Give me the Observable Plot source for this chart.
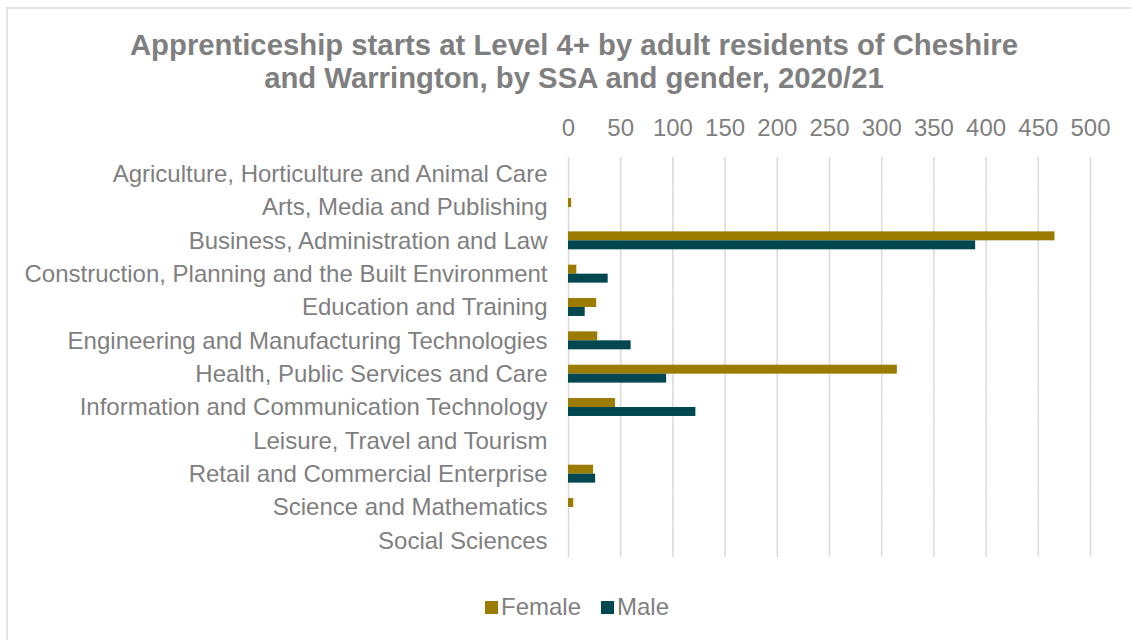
<!DOCTYPE html>
<html>
<head>
<meta charset="utf-8">
<script src="https://cdn.jsdelivr.net/npm/d3@7"></script>
<script src="https://cdn.jsdelivr.net/npm/@observablehq/plot@0.6"></script>
<style>
  html, body { margin: 0; padding: 0; background: #fff; width: 1132px; height: 640px; overflow: hidden; }
  body { position: relative; font-family: Arial, "Liberation Sans", sans-serif; }
  #frame { position: absolute; left: 6px; top: 7px; width: 1140px; height: 650px; border: 2px solid #e3e3e3; box-sizing: border-box; }
  #title { position: absolute; left: 6px; top: 28px; width: 1136px; text-align: center; font-size: 29.3px; font-weight: bold; line-height: 33px; color: #7f7f7f; white-space: nowrap; }
  #chart { position: absolute; left: 0; top: 100px; }
  #legend { position: absolute; left: 9px; top: 593px; width: 1136px; display: flex; justify-content: center; align-items: center; font-size: 24px; line-height: 28px; color: #7f7f7f; }
  .item { display: flex; align-items: center; margin: 0 10px; }
  .sw { width: 13px; height: 13px; margin-right: 3px; }
</style>
</head>
<body>
<div id="frame"></div>
<div id="title">Apprenticeship starts at Level 4+ by adult residents of Cheshire<br>and Warrington, by SSA and gender, 2020/21</div>
<div id="chart"></div>
<div id="legend"></div>
<script>
const categories = [
  "Agriculture, Horticulture and Animal Care",
  "Arts, Media and Publishing",
  "Business, Administration and Law",
  "Construction, Planning and the Built Environment",
  "Education and Training",
  "Engineering and Manufacturing Technologies",
  "Health, Public Services and Care",
  "Information and Communication Technology",
  "Leisure, Travel and Tourism",
  "Retail and Commercial Enterprise",
  "Science and Mathematics",
  "Social Sciences"
];
const female = [0, 3, 466, 8, 27, 28, 315, 45, 0, 24, 5, 0];
const male   = [0, 0, 390, 38, 16, 60, 94, 122, 0, 26, 0, 0];
const genders = ["Female", "Male"];
const colors = ["#9c7c00", "#00474f"];
const xTicks = [0, 50, 100, 150, 200, 250, 300, 350, 400, 450, 500];

const rows = categories.flatMap((c, i) => [
  {category: c, gender: "Female", value: female[i]},
  {category: c, gender: "Male", value: male[i]}
]);

const chart = Plot.plot({
  width: 1132,
  height: 470,
  marginLeft: 568,
  marginRight: 42,
  marginTop: 57,
  marginBottom: 13,
  style: {fontFamily: "Arial, 'Liberation Sans', sans-serif", fontSize: "24px", color: "#7f7f7f", background: "transparent"},
  x: {domain: [0, 500], ticks: xTicks, axis: "top", tickSize: 0, tickPadding: 22, label: null},
  y: {domain: genders, axis: null, paddingInner: 0, paddingOuter: 0.86, round: false},
  fy: {domain: categories, axis: "left", tickSize: 0, tickPadding: 21, label: null, padding: 0, round: false},
  color: {domain: genders, range: colors},
  facet: {data: rows, y: "category"},
  marks: [
    Plot.ruleX(xTicks, {stroke: "#d9d9d9", strokeWidth: 1.5}),
    Plot.barX(rows, {x: "value", y: "gender", fill: "gender"})
  ]
});
document.getElementById("chart").appendChild(chart);

const legend = document.getElementById("legend");
genders.forEach((g, i) => {
  const item = document.createElement("div");
  item.className = "item";
  const sw = document.createElement("div");
  sw.className = "sw";
  sw.style.background = colors[i];
  const t = document.createElement("span");
  t.textContent = g;
  item.appendChild(sw);
  item.appendChild(t);
  legend.appendChild(item);
});
</script>
</body>
</html>
